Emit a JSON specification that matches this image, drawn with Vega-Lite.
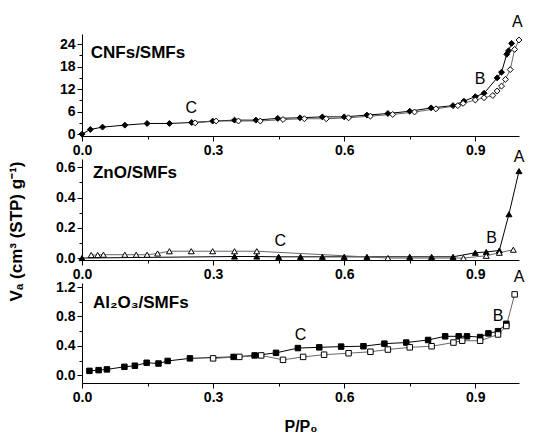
{
  "$schema": "https://vega.github.io/schema/vega-lite/v6.json",
  "background": "white",
  "padding": {"left": 7, "top": 13, "right": 5, "bottom": 2},
  "config": {
    "font": "Liberation Sans",
    "view": {"stroke": null},
    "axis": {"grid": false, "domainColor": "black", "tickColor": "black", "labelColor": "black", "labelFont": "Liberation Sans", "labelFontWeight": "bold", "labelFontSize": 14, "titleFont": "Liberation Sans", "titleFontWeight": "bold", "titleFontSize": 16, "titleColor": "black", "labelFlush": false, "labelOverlap": false, "tickSize": 5}
  },
  "datasets": {
    "cnf": [
      {"p": 0, "v": 0, "b": "ads"}, {"p": 0.019, "v": 1.24, "b": "ads"}, {"p": 0.047, "v": 1.87, "b": "ads"}, {"p": 0.098, "v": 2.4, "b": "ads"}, {"p": 0.149, "v": 2.84, "b": "ads"}, {"p": 0.2, "v": 2.84, "b": "ads"}, {"p": 0.251, "v": 3.1, "b": "ads"}, {"p": 0.299, "v": 3.47, "b": "ads"}, {"p": 0.349, "v": 3.73, "b": "ads"}, {"p": 0.398, "v": 3.73, "b": "ads"}, {"p": 0.448, "v": 4.2, "b": "ads"}, {"p": 0.499, "v": 4.36, "b": "ads"}, {"p": 0.55, "v": 4.6, "b": "ads"}, {"p": 0.6, "v": 4.6, "b": "ads"}, {"p": 0.652, "v": 5.07, "b": "ads"}, {"p": 0.7, "v": 5.5, "b": "ads"}, {"p": 0.75, "v": 6.1, "b": "ads"}, {"p": 0.799, "v": 7.0, "b": "ads"}, {"p": 0.849, "v": 7.6, "b": "ads"}, {"p": 0.874, "v": 8.8, "b": "ads"}, {"p": 0.9, "v": 10.0, "b": "ads"}, {"p": 0.92, "v": 10.9, "b": "ads"}, {"p": 0.95, "v": 15.0, "b": "ads"}, {"p": 0.96, "v": 16.5, "b": "ads"}, {"p": 0.972, "v": 21.3, "b": "ads"}, {"p": 0.976, "v": 22.2, "b": "ads"}, {"p": 0.983, "v": 24.2, "b": "ads"},
      {"p": 1.0, "v": 25.1, "b": "des"}, {"p": 0.99, "v": 22.6, "b": "des"}, {"p": 0.98, "v": 17.2, "b": "des"}, {"p": 0.969, "v": 14.6, "b": "des"}, {"p": 0.96, "v": 12.8, "b": "des"}, {"p": 0.95, "v": 11.5, "b": "des"}, {"p": 0.94, "v": 10.3, "b": "des"}, {"p": 0.92, "v": 9.7, "b": "des"}, {"p": 0.9, "v": 9.1, "b": "des"}, {"p": 0.872, "v": 8.2, "b": "des"}, {"p": 0.86, "v": 7.6, "b": "des"}, {"p": 0.81, "v": 6.75, "b": "des"}, {"p": 0.761, "v": 5.9, "b": "des"}, {"p": 0.711, "v": 5.25, "b": "des"}, {"p": 0.66, "v": 4.8, "b": "des"}, {"p": 0.61, "v": 4.35, "b": "des"}, {"p": 0.559, "v": 4.1, "b": "des"}, {"p": 0.509, "v": 4.1, "b": "des"}, {"p": 0.46, "v": 3.9, "b": "des"}, {"p": 0.408, "v": 3.5, "b": "des"}, {"p": 0.358, "v": 3.5, "b": "des"}, {"p": 0.307, "v": 3.5, "b": "des"}, {"p": 0.259, "v": 3.0, "b": "des"}
    ],
    "zno": [
      {"p": 0, "v": 0, "b": "ads"}, {"p": 0.349, "v": 0.01, "b": "ads"}, {"p": 0.4, "v": 0.01, "b": "ads"}, {"p": 0.45, "v": 0.008, "b": "ads"}, {"p": 0.5, "v": 0.008, "b": "ads"}, {"p": 0.55, "v": 0.008, "b": "ads"}, {"p": 0.6, "v": 0.008, "b": "ads"}, {"p": 0.652, "v": 0.008, "b": "ads"}, {"p": 0.75, "v": 0.008, "b": "ads"}, {"p": 0.8, "v": 0.008, "b": "ads"}, {"p": 0.849, "v": 0.008, "b": "ads"}, {"p": 0.9, "v": 0.035, "b": "ads"}, {"p": 0.925, "v": 0.04, "b": "ads"}, {"p": 0.955, "v": 0.05, "b": "ads"}, {"p": 0.977, "v": 0.29, "b": "ads"}, {"p": 1.0, "v": 0.575, "b": "ads"},
      {"p": 0.021, "v": 0.02, "b": "des"}, {"p": 0.036, "v": 0.02, "b": "des"}, {"p": 0.049, "v": 0.022, "b": "des"}, {"p": 0.098, "v": 0.022, "b": "des"}, {"p": 0.124, "v": 0.022, "b": "des"}, {"p": 0.149, "v": 0.022, "b": "des"}, {"p": 0.173, "v": 0.03, "b": "des"}, {"p": 0.2, "v": 0.045, "b": "des"}, {"p": 0.25, "v": 0.045, "b": "des"}, {"p": 0.299, "v": 0.045, "b": "des"}, {"p": 0.349, "v": 0.045, "b": "des"}, {"p": 0.4, "v": 0.045, "b": "des"}, {"p": 0.7, "v": 0.0, "b": "des"}, {"p": 0.873, "v": 0.0, "b": "des"}, {"p": 0.925, "v": 0.015, "b": "des"}, {"p": 0.955, "v": 0.035, "b": "des"}, {"p": 0.987, "v": 0.055, "b": "des"}
    ],
    "al": [
      {"p": 0.017, "v": 0.06, "b": "ads"}, {"p": 0.038, "v": 0.07, "b": "ads"}, {"p": 0.057, "v": 0.08, "b": "ads"}, {"p": 0.097, "v": 0.115, "b": "ads"}, {"p": 0.121, "v": 0.13, "b": "ads"}, {"p": 0.148, "v": 0.17, "b": "ads"}, {"p": 0.175, "v": 0.16, "b": "ads"}, {"p": 0.196, "v": 0.195, "b": "ads"}, {"p": 0.247, "v": 0.23, "b": "ads"}, {"p": 0.347, "v": 0.25, "b": "ads"}, {"p": 0.395, "v": 0.27, "b": "ads"}, {"p": 0.444, "v": 0.305, "b": "ads"}, {"p": 0.494, "v": 0.37, "b": "ads"}, {"p": 0.543, "v": 0.38, "b": "ads"}, {"p": 0.593, "v": 0.39, "b": "ads"}, {"p": 0.644, "v": 0.395, "b": "ads"}, {"p": 0.692, "v": 0.43, "b": "ads"}, {"p": 0.742, "v": 0.445, "b": "ads"}, {"p": 0.792, "v": 0.48, "b": "ads"}, {"p": 0.831, "v": 0.53, "b": "ads"}, {"p": 0.862, "v": 0.53, "b": "ads"}, {"p": 0.881, "v": 0.53, "b": "ads"}, {"p": 0.911, "v": 0.52, "b": "ads"}, {"p": 0.93, "v": 0.57, "b": "ads"}, {"p": 0.952, "v": 0.6, "b": "ads"}, {"p": 0.971, "v": 0.7, "b": "ads"},
      {"p": 0.99, "v": 1.1, "b": "des"}, {"p": 0.971, "v": 0.67, "b": "des"}, {"p": 0.952, "v": 0.555, "b": "des"}, {"p": 0.911, "v": 0.47, "b": "des"}, {"p": 0.87, "v": 0.47, "b": "des"}, {"p": 0.85, "v": 0.445, "b": "des"}, {"p": 0.8, "v": 0.395, "b": "des"}, {"p": 0.75, "v": 0.38, "b": "des"}, {"p": 0.7, "v": 0.35, "b": "des"}, {"p": 0.66, "v": 0.32, "b": "des"}, {"p": 0.61, "v": 0.3, "b": "des"}, {"p": 0.554, "v": 0.28, "b": "des"}, {"p": 0.506, "v": 0.25, "b": "des"}, {"p": 0.46, "v": 0.21, "b": "des"}, {"p": 0.41, "v": 0.27, "b": "des"}, {"p": 0.36, "v": 0.25, "b": "des"}, {"p": 0.3, "v": 0.23, "b": "des"}
    ]
  },
  "vconcat": [
    {
      "width": 437, "height": 102,
      "resolve": {"axis": {"x": "independent", "y": "independent"}},
      "layer": [
        {"data": {"name": "cnf"}, "mark": {"type": "line", "strokeWidth": 1},
         "encoding": {
           "x": {"field": "p", "type": "quantitative", "scale": {"domain": [0, 1], "nice": false, "zero": false},
                 "axis": {"title": null, "values": [0, 0.3, 0.6, 0.9], "format": ".1f"}},
           "y": {"field": "v", "type": "quantitative", "scale": {"domain": [-0.5, 26.7], "nice": false, "zero": false},
                 "axis": {"title": null, "values": [0, 6, 12, 18, 24], "format": "d"}},
           "color": {"field": "b", "type": "nominal", "scale": {"domain": ["ads", "des"], "range": ["#000000", "#666666"]}, "legend": null}
         }},
        {"data": {"name": "cnf"}, "mark": {"type": "point", "shape": "diamond", "filled": true, "size": 35, "opacity": 1, "strokeWidth": 1},
         "encoding": {
           "x": {"field": "p", "type": "quantitative", "axis": {"orient": "bottom", "title": null, "values": [0.15, 0.45, 0.75], "labels": false, "domain": false, "tickSize": 3}},
           "y": {"field": "v", "type": "quantitative", "axis": {"orient": "left", "title": null, "values": [3, 9, 15, 21], "labels": false, "domain": false, "tickSize": 3}},
           "fill": {"field": "b", "type": "nominal", "scale": {"domain": ["ads", "des"], "range": ["#000000", "#ffffff"]}, "legend": null},
           "stroke": {"value": "#000000"}
         }},
        {"data": {"values": [{"p": 0.02, "v": 21.6, "t": "CNFs/SMFs"}]}, "mark": {"type": "text", "align": "left", "baseline": "middle", "fontSize": 17, "fontWeight": "bold", "font": "Liberation Sans"},
         "encoding": {"x": {"field": "p", "type": "quantitative", "axis": null}, "y": {"field": "v", "type": "quantitative", "axis": null}, "text": {"field": "t"}}},
        {"data": {"values": [{"p": 0.996, "v": 30, "t": "A"}, {"p": 0.911, "v": 14.6, "t": "B"}, {"p": 0.25, "v": 6.9, "t": "C"}]}, "mark": {"type": "text", "align": "center", "baseline": "middle", "fontSize": 16, "font": "Liberation Sans"},
         "encoding": {"x": {"field": "p", "type": "quantitative", "axis": null}, "y": {"field": "v", "type": "quantitative", "axis": null}, "text": {"field": "t"}}}
      ]
    },
    {
      "width": 437, "height": 101,
      "resolve": {"axis": {"x": "independent", "y": "independent"}},
      "layer": [
        {"data": {"name": "zno"}, "mark": {"type": "line", "strokeWidth": 1},
         "encoding": {
           "x": {"field": "p", "type": "quantitative", "scale": {"domain": [0, 1], "nice": false, "zero": false},
                 "axis": {"title": null, "values": [0, 0.3, 0.6, 0.9], "format": ".1f"}},
           "y": {"field": "v", "type": "quantitative", "scale": {"domain": [-0.013, 0.655], "nice": false, "zero": false},
                 "axis": {"title": "Vₐ (cm³ (STP) g⁻¹)", "titleFontSize": 17, "titleY": 72, "titleX": -66, "titleBaseline": "middle", "values": [0, 0.2, 0.4, 0.6], "format": ".1f"}},
           "color": {"field": "b", "type": "nominal", "scale": {"domain": ["ads", "des"], "range": ["#000000", "#666666"]}, "legend": null}
         }},
        {"data": {"name": "zno"}, "mark": {"type": "point", "shape": "triangle-up", "filled": true, "size": 35, "opacity": 1, "strokeWidth": 1},
         "encoding": {
           "x": {"field": "p", "type": "quantitative", "axis": {"orient": "bottom", "title": null, "values": [0.15, 0.45, 0.75], "labels": false, "domain": false, "tickSize": 3}},
           "y": {"field": "v", "type": "quantitative", "axis": {"orient": "left", "title": null, "values": [0.1, 0.3, 0.5], "labels": false, "domain": false, "tickSize": 3}},
           "fill": {"field": "b", "type": "nominal", "scale": {"domain": ["ads", "des"], "range": ["#000000", "#ffffff"]}, "legend": null},
           "stroke": {"value": "#000000"}
         }},
        {"data": {"values": [{"p": 0.025, "v": 0.56, "t": "ZnO/SMFs"}]}, "mark": {"type": "text", "align": "left", "baseline": "middle", "fontSize": 17, "fontWeight": "bold", "font": "Liberation Sans"},
         "encoding": {"x": {"field": "p", "type": "quantitative", "axis": null}, "y": {"field": "v", "type": "quantitative", "axis": null}, "text": {"field": "t"}}},
        {"data": {"values": [{"p": 1.0, "v": 0.67, "t": "A"}, {"p": 0.937, "v": 0.13, "t": "B"}, {"p": 0.454, "v": 0.11, "t": "C"}]}, "mark": {"type": "text", "align": "center", "baseline": "middle", "fontSize": 16, "font": "Liberation Sans"},
         "encoding": {"x": {"field": "p", "type": "quantitative", "axis": null}, "y": {"field": "v", "type": "quantitative", "axis": null}, "text": {"field": "t"}}}
      ]
    },
    {
      "width": 437, "height": 100,
      "resolve": {"axis": {"x": "independent", "y": "independent"}},
      "layer": [
        {"data": {"name": "al"}, "mark": {"type": "line", "strokeWidth": 1},
         "encoding": {
           "x": {"field": "p", "type": "quantitative", "scale": {"domain": [0, 1], "nice": false, "zero": false},
                 "axis": {"title": "P/P₀", "titlePadding": 14, "values": [0, 0.3, 0.6, 0.9], "format": ".1f"}},
           "y": {"field": "v", "type": "quantitative", "scale": {"domain": [-0.105, 1.255], "nice": false, "zero": false},
                 "axis": {"title": null, "values": [0, 0.4, 0.8, 1.2], "format": ".1f"}},
           "color": {"field": "b", "type": "nominal", "scale": {"domain": ["ads", "des"], "range": ["#000000", "#666666"]}, "legend": null}
         }},
        {"data": {"name": "al"}, "mark": {"type": "point", "shape": "square", "filled": true, "size": 30, "opacity": 1, "strokeWidth": 1},
         "encoding": {
           "x": {"field": "p", "type": "quantitative", "axis": {"orient": "bottom", "title": null, "values": [0.15, 0.45, 0.75], "labels": false, "domain": false, "tickSize": 3}},
           "y": {"field": "v", "type": "quantitative", "axis": {"orient": "left", "title": null, "values": [0.2, 0.6, 1.0], "labels": false, "domain": false, "tickSize": 3}},
           "fill": {"field": "b", "type": "nominal", "scale": {"domain": ["ads", "des"], "range": ["#000000", "#ffffff"]}, "legend": null},
           "stroke": {"value": "#000000"}
         }},
        {"data": {"values": [{"p": 0.025, "v": 0.98, "t": "Al₂O₃/SMFs"}]}, "mark": {"type": "text", "align": "left", "baseline": "middle", "fontSize": 17, "fontWeight": "bold", "font": "Liberation Sans"},
         "encoding": {"x": {"field": "p", "type": "quantitative", "axis": null}, "y": {"field": "v", "type": "quantitative", "axis": null}, "text": {"field": "t"}}},
        {"data": {"values": [{"p": 1.0, "v": 1.33, "t": "A"}, {"p": 0.952, "v": 0.8, "t": "B"}, {"p": 0.5, "v": 0.55, "t": "C"}]}, "mark": {"type": "text", "align": "center", "baseline": "middle", "fontSize": 16, "font": "Liberation Sans"},
         "encoding": {"x": {"field": "p", "type": "quantitative", "axis": null}, "y": {"field": "v", "type": "quantitative", "axis": null}, "text": {"field": "t"}}}
      ]
    }
  ],
  "spacing": 23,
  "bounds": "flush"
}
